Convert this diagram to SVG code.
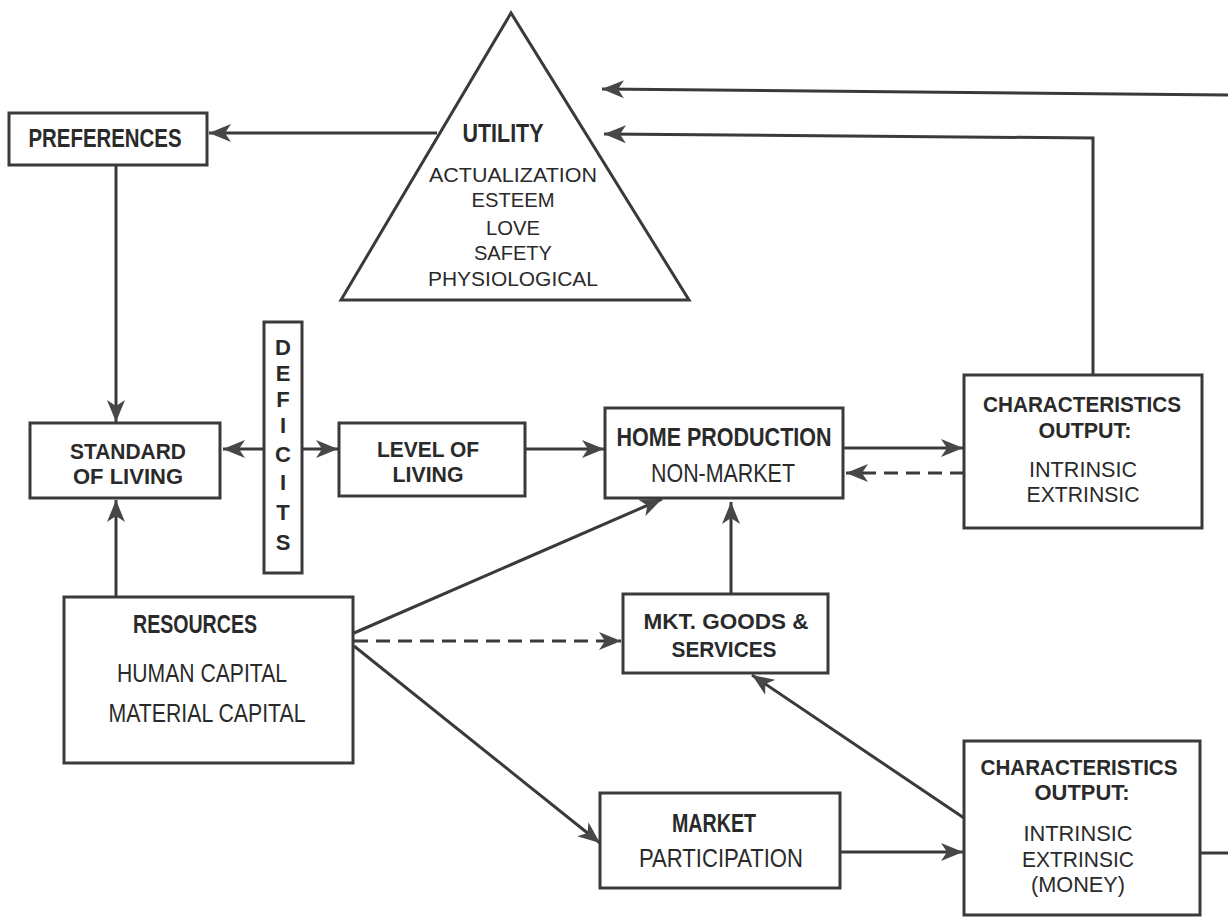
<svg xmlns="http://www.w3.org/2000/svg" width="1228" height="917" viewBox="0 0 1228 917">
<style>
.box{fill:#fff;stroke:#3a3a3a;stroke-width:3}
.ln{fill:none;stroke:#3a3a3a;stroke-width:3}
.dash{stroke-dasharray:14 8}
text{font-family:"Liberation Sans",Arial,sans-serif;fill:#2a2a2a;text-anchor:middle}
.b{font-weight:bold;font-size:25px}
.bt{font-weight:bold;font-size:22px}
.r{font-size:25px}
.rt{font-size:22px}
.s{font-size:21px}
</style>
<defs>
<marker id="ah" markerUnits="userSpaceOnUse" markerWidth="24" markerHeight="20" refX="22" refY="9" orient="auto" viewBox="0 0 24 18">
<path d="M0,0 L22,9 L0,18 L6,9 Z" fill="#474747"/>
</marker>
</defs>
<rect width="1228" height="917" fill="#fff"/>
<g id="connectors">
<path class="ln" d="M1228,95 L602,89" marker-end="url(#ah)"/>
<path class="ln" d="M1093,375 L1093,138 L604,134" marker-end="url(#ah)"/>
<path class="ln" d="M437,133 L209,133" marker-end="url(#ah)"/>
<path class="ln" d="M116,165 L116,422" marker-end="url(#ah)"/>
<path class="ln" d="M116,597 L116,500" marker-end="url(#ah)"/>
<path class="ln" d="M264,449 L223,449" marker-end="url(#ah)"/>
<path class="ln" d="M302,449 L338,449" marker-end="url(#ah)"/>
<path class="ln" d="M525,449 L604,449" marker-end="url(#ah)"/>
<path class="ln" d="M843,448 L963,448" marker-end="url(#ah)"/>
<path class="ln dash" d="M964,473 L846,473" marker-end="url(#ah)"/>
<path class="ln" d="M354,633 L662,499" marker-end="url(#ah)"/>
<path class="ln dash" d="M354,641 L621,641" marker-end="url(#ah)"/>
<path class="ln" d="M354,646 L600,843" marker-end="url(#ah)"/>
<path class="ln" d="M731,594 L731,502" marker-end="url(#ah)"/>
<path class="ln" d="M964,818 L752,675" marker-end="url(#ah)"/>
<path class="ln" d="M840,852 L963,852" marker-end="url(#ah)"/>
<path class="ln" d="M1200,853 L1228,853"/>
</g>
<g id="utility">
<polygon class="box" points="511,13 341,300 689,300"/>
<text class="b" x="503" y="142" textLength="81" lengthAdjust="spacingAndGlyphs">UTILITY</text>
<text class="s" x="513" y="182" textLength="168" lengthAdjust="spacingAndGlyphs">ACTUALIZATION</text>
<text class="s" x="513" y="207" textLength="83" lengthAdjust="spacingAndGlyphs">ESTEEM</text>
<text class="s" x="513" y="235" textLength="54" lengthAdjust="spacingAndGlyphs">LOVE</text>
<text class="s" x="513" y="260" textLength="78" lengthAdjust="spacingAndGlyphs">SAFETY</text>
<text class="s" x="513" y="286" textLength="170" lengthAdjust="spacingAndGlyphs">PHYSIOLOGICAL</text>
</g>
<g id="preferences">
<rect class="box" x="9" y="113" width="198" height="52"/>
<text class="b" x="105" y="147" textLength="153" lengthAdjust="spacingAndGlyphs">PREFERENCES</text>
</g>
<g id="standard">
<rect class="box" x="30" y="423" width="190" height="75"/>
<text class="bt" x="128" y="459" textLength="116" lengthAdjust="spacingAndGlyphs">STANDARD</text>
<text class="bt" x="128" y="484" textLength="110" lengthAdjust="spacingAndGlyphs">OF LIVING</text>
</g>
<g id="deficits">
<rect class="box" x="264" y="322" width="38" height="251"/>
<text class="bt" x="283" y="355">D</text>
<text class="bt" x="283" y="381">E</text>
<text class="bt" x="283" y="407">F</text>
<text class="bt" x="283" y="433">I</text>
<text class="bt" x="283" y="462">C</text>
<text class="bt" x="283" y="490">I</text>
<text class="bt" x="283" y="520">T</text>
<text class="bt" x="283" y="550">S</text>
</g>
<g id="level">
<rect class="box" x="339" y="423" width="186" height="73"/>
<text class="bt" x="428" y="457" textLength="102" lengthAdjust="spacingAndGlyphs">LEVEL OF</text>
<text class="bt" x="428" y="482" textLength="71" lengthAdjust="spacingAndGlyphs">LIVING</text>
</g>
<g id="home">
<rect class="box" x="605" y="408" width="238" height="90"/>
<text class="b" x="724" y="446" textLength="215" lengthAdjust="spacingAndGlyphs">HOME PRODUCTION</text>
<text class="r" x="723" y="482" textLength="144" lengthAdjust="spacingAndGlyphs">NON-MARKET</text>
</g>
<g id="char-top">
<rect class="box" x="964" y="375" width="238" height="153"/>
<text class="bt" x="1082" y="412" textLength="198" lengthAdjust="spacingAndGlyphs">CHARACTERISTICS</text>
<text class="bt" x="1085" y="438" textLength="93" lengthAdjust="spacingAndGlyphs">OUTPUT:</text>
<text class="rt" x="1083" y="477" textLength="108" lengthAdjust="spacingAndGlyphs">INTRINSIC</text>
<text class="rt" x="1083" y="502" textLength="113" lengthAdjust="spacingAndGlyphs">EXTRINSIC</text>
</g>
<g id="resources">
<rect class="box" x="64" y="597" width="289" height="166"/>
<text class="b" x="195" y="633" textLength="124" lengthAdjust="spacingAndGlyphs">RESOURCES</text>
<text class="r" x="202" y="682" textLength="170" lengthAdjust="spacingAndGlyphs">HUMAN CAPITAL</text>
<text class="r" x="207" y="722" textLength="197" lengthAdjust="spacingAndGlyphs">MATERIAL CAPITAL</text>
</g>
<g id="mkt-goods">
<rect class="box" x="623" y="594" width="205" height="79"/>
<text class="bt" x="726" y="629" textLength="165" lengthAdjust="spacingAndGlyphs">MKT. GOODS &amp;</text>
<text class="bt" x="724" y="657" textLength="105" lengthAdjust="spacingAndGlyphs">SERVICES</text>
</g>
<g id="market">
<rect class="box" x="600" y="793" width="240" height="95"/>
<text class="b" x="714" y="832" textLength="84" lengthAdjust="spacingAndGlyphs">MARKET</text>
<text class="r" x="721" y="867" textLength="164" lengthAdjust="spacingAndGlyphs">PARTICIPATION</text>
</g>
<g id="char-bottom">
<rect class="box" x="964" y="741" width="236" height="174"/>
<text class="bt" x="1079" y="775" textLength="197" lengthAdjust="spacingAndGlyphs">CHARACTERISTICS</text>
<text class="bt" x="1082" y="800" textLength="95" lengthAdjust="spacingAndGlyphs">OUTPUT:</text>
<text class="rt" x="1078" y="841" textLength="109" lengthAdjust="spacingAndGlyphs">INTRINSIC</text>
<text class="rt" x="1078" y="867" textLength="112" lengthAdjust="spacingAndGlyphs">EXTRINSIC</text>
<text class="rt" x="1078" y="892" textLength="94" lengthAdjust="spacingAndGlyphs">(MONEY)</text>
</g>
</svg>
